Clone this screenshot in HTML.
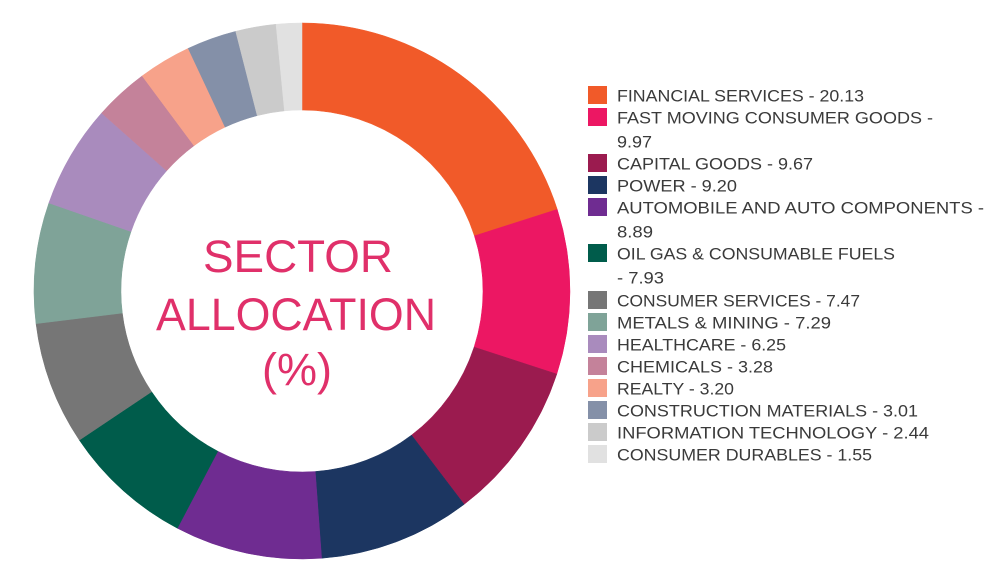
<!DOCTYPE html>
<html><head><meta charset="utf-8"><style>
html,body{margin:0;padding:0;background:#fff;width:996px;height:579px;overflow:hidden}
svg{display:block}
.lg{font-family:"Liberation Sans",sans-serif;font-size:17px;fill:#3a3a3a}
.ct{font-family:"Liberation Sans",sans-serif;font-size:45px;fill:#e0306a;text-anchor:middle}
</style></head><body>
<svg id="s" width="996" height="579" viewBox="0 0 996 579">
<g id="donut"></g>
<text class="ct" x="298" y="272" textLength="190" lengthAdjust="spacingAndGlyphs">SECTOR</text>
<text class="ct" x="296" y="330" textLength="280" lengthAdjust="spacingAndGlyphs">ALLOCATION</text>
<text class="ct" x="297" y="385">(%)</text>
<g id="leg"></g>
</svg>
<script>
var vals=[20.13,9.97,9.67,9.20,8.89,7.93,7.47,7.29,6.25,3.28,3.20,3.01,2.44,1.55];
var cols=["#f15a29","#ec1763","#9b1b4f","#1c3661","#6f2c91","#005c4b","#767676","#7fa398","#a98bbd","#c4829a","#f7a28a","#8490a8","#cbcbcb","#e1e1e1"];
var cx=302,cy=291,R=268,r=181,tot=0;vals.forEach(function(v){tot+=v});
var a=0,g=document.getElementById('donut'),h='';
function pt(rad,ang){return [cx+rad*Math.sin(ang),cy-rad*Math.cos(ang)];}
vals.forEach(function(v,i){var b=a+v/tot*2*Math.PI;var l=(b-a)>Math.PI?1:0;
var p1=pt(R,a),p2=pt(R,b),p3=pt(r,b),p4=pt(r,a);
h+='<path fill="'+cols[i]+'" stroke="'+cols[i]+'" stroke-width="0.5" d="M'+p1+' A'+R+','+R+' 0 '+l+' 1 '+p2+' L'+p3+' A'+r+','+r+' 0 '+l+' 0 '+p4+' Z"/>';a=b;});
g.innerHTML=h;
var items=[
[95,0,"FINANCIAL SERVICES - 20.13",247],
[117,1,"FAST MOVING CONSUMER GOODS -",316],
[141,-1,"9.97",35],
[163,2,"CAPITAL GOODS - 9.67",196],
[185,3,"POWER - 9.20",120],
[207,4,"AUTOMOBILE AND AUTO COMPONENTS -",367],
[231,-1,"8.89",36],
[253,5,"OIL GAS & CONSUMABLE FUELS",278],
[277,-1,"- 7.93",47],
[300,6,"CONSUMER SERVICES - 7.47",243],
[322,7,"METALS & MINING - 7.29",214],
[344,8,"HEALTHCARE - 6.25",169],
[366,9,"CHEMICALS - 3.28",156],
[388,10,"REALTY - 3.20",117],
[410,11,"CONSTRUCTION MATERIALS - 3.01",301],
[432,12,"INFORMATION TECHNOLOGY - 2.44",312],
[454,13,"CONSUMER DURABLES - 1.55",255]];
var lh='';
items.forEach(function(it){
if(it[1]>=0)lh+='<rect x="588" y="'+(it[0]-9)+'" width="19" height="18" fill="'+cols[it[1]]+'"/>';
lh+='<text class="lg" x="617" y="'+(it[0]+6.5)+'" textLength="'+it[3]+'" lengthAdjust="spacingAndGlyphs">'+it[2].replace('&','&amp;')+'</text>';});
document.getElementById('leg').innerHTML=lh;
</script>
</body></html>
